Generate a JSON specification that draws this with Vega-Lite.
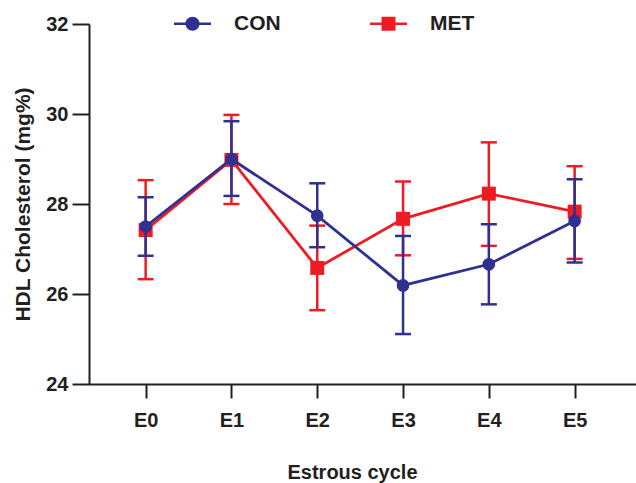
{
  "$schema": "https://vega.github.io/schema/vega-lite/v6.json",
  "width": 547,
  "height": 360,
  "autosize": {"type": "none"},
  "padding": {"left": 89, "top": 24, "right": 0, "bottom": 99},
  "background": "white",
  "config": {
    "view": {"stroke": null},
    "font": "Liberation Sans",
    "axis": {
      "grid": false,
      "domainColor": "#231F20",
      "domainWidth": 2,
      "tickColor": "#231F20",
      "tickWidth": 2,
      "labelColor": "#231F20",
      "labelFont": "Liberation Sans",
      "labelFontSize": 20,
      "labelFontWeight": "bold",
      "titleColor": "#231F20",
      "titleFont": "Liberation Sans",
      "titleFontSize": 20,
      "titleFontWeight": "bold"
    }
  },
  "data": {
    "values": [
      {"stage": "E0", "group": "CON", "mean": 27.5, "lo": 26.85, "hi": 28.15},
      {"stage": "E1", "group": "CON", "mean": 29.0, "lo": 28.18, "hi": 29.84},
      {"stage": "E2", "group": "CON", "mean": 27.74, "lo": 27.04, "hi": 28.46},
      {"stage": "E3", "group": "CON", "mean": 26.19, "lo": 25.11, "hi": 27.29},
      {"stage": "E4", "group": "CON", "mean": 26.66, "lo": 25.77, "hi": 27.55},
      {"stage": "E5", "group": "CON", "mean": 27.62, "lo": 26.7, "hi": 28.55},
      {"stage": "E0", "group": "MET", "mean": 27.42, "lo": 26.33, "hi": 28.53},
      {"stage": "E1", "group": "MET", "mean": 28.98, "lo": 28.0, "hi": 29.98},
      {"stage": "E2", "group": "MET", "mean": 26.58, "lo": 25.64, "hi": 27.52},
      {"stage": "E3", "group": "MET", "mean": 27.67, "lo": 26.86, "hi": 28.5},
      {"stage": "E4", "group": "MET", "mean": 28.23, "lo": 27.07, "hi": 29.37},
      {"stage": "E5", "group": "MET", "mean": 27.83, "lo": 26.78, "hi": 28.84}
    ]
  },
  "encoding": {
    "x": {
      "field": "stage",
      "type": "ordinal",
      "scale": {"type": "point", "padding": 0.6876, "align": 0.48},
      "axis": {
        "title": "Estrous cycle",
        "labelAngle": 0,
        "tickSize": 14,
        "labelPadding": 12,
        "titlePadding": 32,
        "titleX": 263
      }
    },
    "color": {
      "field": "group",
      "type": "nominal",
      "scale": {"domain": ["CON", "MET"], "range": ["#2E3192", "#ED1C24"]},
      "legend": {
        "title": null,
        "orient": "none",
        "direction": "horizontal",
        "legendX": 93,
        "legendY": -11,
        "padding": 0,
        "symbolSize": 400,
        "labelOffset": 31,
        "columnPadding": 89,
        "labelFont": "Liberation Sans",
        "labelFontSize": 21,
        "labelFontWeight": "bold",
        "labelColor": "#231F20",
        "encode": {
          "symbols": {
            "update": {
              "shape": {"signal": "datum.value === 'CON' ? 'M-1.85,-0.13H1.85V0.13H-1.85Z M0.7,0A0.7,0.7,0,1,1,-0.7,0A0.7,0.7,0,1,1,0.7,0Z' : 'M-1.85,-0.13H1.85V0.13H-1.85Z M-0.7,-0.7H0.7V0.7H-0.7Z'"},
              "fill": {"signal": "datum.value === 'CON' ? '#2E3192' : '#ED1C24'"},
              "fillOpacity": {"value": 1},
              "strokeWidth": {"value": 0},
              "opacity": {"value": 1}
            }
          }
        }
      }
    }
  },
  "layer": [
    {
      "transform": [{"filter": "datum.group === 'MET'"}],
      "layer": [
        {
          "mark": {"type": "rule", "strokeWidth": 2.5},
          "encoding": {
            "y": {
              "field": "lo",
              "type": "quantitative",
              "scale": {"domain": [24, 32], "nice": false},
              "axis": {
                "title": "HDL Cholesterol (mg%)",
                "values": [24, 26, 28, 30, 32],
                "tickSize": 17,
                "labelPadding": 4,
                "titlePadding": 12,
                "titleFontSize": 21
              }
            },
            "y2": {"field": "hi"}
          }
        },
        {
          "mark": {"type": "tick", "size": 16, "thickness": 2.5, "opacity": 1},
          "encoding": {"y": {"field": "hi", "type": "quantitative"}}
        },
        {
          "mark": {"type": "tick", "size": 16, "thickness": 2.5, "opacity": 1},
          "encoding": {"y": {"field": "lo", "type": "quantitative"}}
        },
        {
          "mark": {"type": "line", "strokeWidth": 2.8},
          "encoding": {"y": {"field": "mean", "type": "quantitative"}}
        },
        {
          "mark": {"type": "point", "shape": "square", "filled": true, "opacity": 1, "size": 196},
          "encoding": {"y": {"field": "mean", "type": "quantitative"}}
        }
      ]
    },
    {
      "transform": [{"filter": "datum.group === 'CON'"}],
      "layer": [
        {
          "mark": {"type": "rule", "strokeWidth": 2.5},
          "encoding": {
            "y": {"field": "lo", "type": "quantitative"},
            "y2": {"field": "hi"}
          }
        },
        {
          "mark": {"type": "tick", "size": 16, "thickness": 2.5, "opacity": 1},
          "encoding": {"y": {"field": "hi", "type": "quantitative"}}
        },
        {
          "mark": {"type": "tick", "size": 16, "thickness": 2.5, "opacity": 1},
          "encoding": {"y": {"field": "lo", "type": "quantitative"}}
        },
        {
          "mark": {"type": "line", "strokeWidth": 2.8},
          "encoding": {"y": {"field": "mean", "type": "quantitative"}}
        },
        {
          "mark": {"type": "point", "shape": "circle", "filled": true, "opacity": 1, "size": 160},
          "encoding": {"y": {"field": "mean", "type": "quantitative"}}
        }
      ]
    }
  ]
}
